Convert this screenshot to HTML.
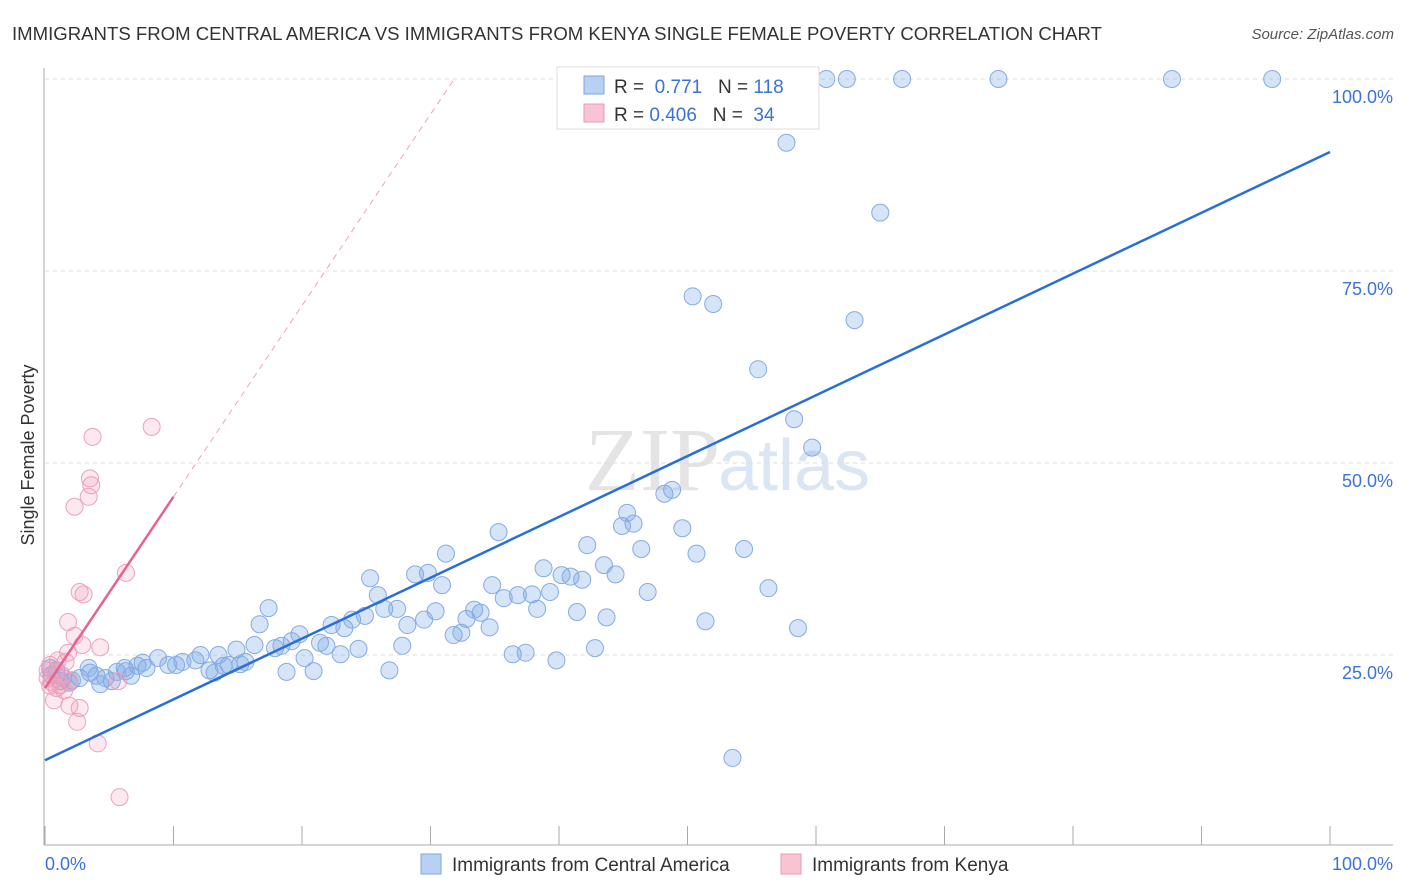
<!DOCTYPE html>
<html><head><meta charset="utf-8"><style>
body{margin:0;background:#fff;font-family:"Liberation Sans",sans-serif}
svg{display:block}
</style></head><body>
<svg id="chart" width="1406" height="892" xmlns="http://www.w3.org/2000/svg">
<text x="12" y="40" font-size="18" fill="#333" textLength="1090" lengthAdjust="spacingAndGlyphs">IMMIGRANTS FROM CENTRAL AMERICA VS IMMIGRANTS FROM KENYA SINGLE FEMALE POVERTY CORRELATION CHART</text>
<text x="1394" y="39" font-size="15" fill="#555" font-style="italic" text-anchor="end">Source: ZipAtlas.com</text>
<text x="720" y="490" font-size="90" fill="#e4e4e4" text-anchor="end" font-family="Liberation Serif">ZIP</text>
<text x="718" y="490" font-size="72" fill="#dbe6f5">atlas</text>
<g id="grid"></g><g id="axes"></g><g id="marks"></g>
<text transform="translate(34,455) rotate(-90)" font-size="18" fill="#333" text-anchor="middle">Single Female Poverty</text>
<text x="45" y="870" font-size="18" fill="#3b72d9">0.0%</text>
<text x="1393" y="870" font-size="18" fill="#3b72d9" text-anchor="end">100.0%</text>
<g>
<rect x="557" y="67" width="262" height="62" fill="#fff" stroke="#ddd"/>
<rect x="584" y="76" width="20" height="18" fill="#b8d1f3" stroke="#7ea6e0"/>
<rect x="584" y="104" width="20" height="18" fill="#f8c4d4" stroke="#eb9ab4"/>
<text x="614" y="93" font-size="19" fill="#333">R = <tspan fill="#3b72d9">&#160;0.771</tspan>&#160;&#160;&#160;N = <tspan fill="#3b72d9">118</tspan></text>
<text x="614" y="121" font-size="19" fill="#333">R = <tspan fill="#3b72d9">0.406</tspan>&#160;&#160;&#160;N = <tspan fill="#3b72d9">&#160;34</tspan></text>
</g>
<g>
<rect x="421" y="854" width="20" height="20" fill="#b8d1f3" stroke="#7ea6e0"/>
<text x="452" y="871" font-size="19" fill="#333">Immigrants from Central America</text>
<rect x="781" y="854" width="20" height="20" fill="#f8c4d4" stroke="#eb9ab4"/>
<text x="812" y="871" font-size="19" fill="#333">Immigrants from Kenya</text>
</g>
</svg>
<script>
const yTicks=[25,50,75,100];
const yTickLabels=["25.0%","50.0%","75.0%","100.0%"];
const xTicks=[0,10,20,30,40,50,60,70,80,90,100];
const blueX=[60.8,62.4,66.7,74.2,87.7,95.5,57.7,65.0,50.4,52.0,63.0,55.5,58.3,59.7,48.2,48.8,45.3,44.9,45.8,49.6,46.4,50.7,54.4,42.2,35.3,31.2,38.8,43.5,40.2,40.9,41.8,44.4,34.8,25.3,28.8,29.8,30.9,25.9,46.9,56.3,35.7,36.8,37.9,39.3,33.4,33.9,32.8,38.3,41.4,43.7,26.4,27.4,30.4,29.5,28.2,34.6,51.4,58.6,17.4,16.7,19.8,22.3,23.3,23.9,24.9,19.2,21.4,21.9,23.0,24.4,27.8,31.8,32.4,36.4,37.4,39.8,42.8,53.5,26.8,18.8,20.9,20.2,14.9,16.3,17.9,18.4,13.5,12.1,11.7,10.7,10.2,9.6,8.8,7.9,7.6,7.2,6.2,6.3,5.6,4.7,4.0,3.5,2.7,2.1,1.4,0.9,0.5,1.2,3.4,15.6,15.2,14.3,13.9,12.8,13.2,6.7,5.2,4.3,1.9,0.4];
const blueY=[100,100,100,100,100,100,91.7,82.6,71.7,70.7,68.6,62.2,55.7,52.0,46.0,46.5,43.5,41.8,42.1,41.5,38.8,38.2,38.8,39.3,41.0,38.2,36.3,36.7,35.4,35.2,34.8,35.5,34.1,35.0,35.5,35.7,34.1,32.8,33.2,33.7,32.4,32.8,32.9,33.2,30.9,30.5,29.7,31.0,30.6,29.9,31.0,31.0,30.7,29.6,28.9,28.6,29.4,28.5,31.1,29.0,27.7,28.9,28.5,29.6,30.1,26.8,26.6,26.2,25.1,25.8,26.2,27.6,27.9,25.1,25.3,24.3,25.9,11.6,23.0,22.8,22.9,24.6,25.7,26.3,25.9,26.2,25.0,25.0,24.3,24.1,23.7,23.7,24.6,23.3,24.0,23.6,23.3,22.9,22.8,22.0,22.3,22.7,22.0,21.7,22.0,23.0,22.4,21.6,23.3,24.1,23.8,23.7,23.6,23.0,22.7,22.3,21.6,21.2,21.4,23.3];
const pinkX=[8.3,3.7,3.5,3.6,3.4,2.3,6.3,2.7,3.0,1.8,2.3,2.9,4.3,1.8,1.6,1.0,0.4,0.2,0.8,1.3,0.2,0.5,1.2,1.9,5.7,0.7,1.9,2.7,2.5,4.1,5.8,1.5,0.9,0.4];
const pinkY=[54.7,53.4,48.0,47.1,45.6,44.3,35.7,33.2,32.9,29.3,27.5,26.3,26.0,25.3,24.1,24.3,23.7,23.0,22.8,22.4,22.0,21.5,21.1,21.6,21.6,19.1,18.4,18.1,16.3,13.5,6.5,20.4,20.7,21.0];
const blueTrend=[11.3,90.5];
const pinkTrend=[20.7,45.6];
const NS='http://www.w3.org/2000/svg';
const xs=v=>45+v*12.85, ys=v=>847-v*7.68;
function mk(tag,attrs,parent){const e=document.createElementNS(NS,tag);for(const k in attrs)e.setAttribute(k,attrs[k]);parent.appendChild(e);return e;}
const grid=document.getElementById('grid'),axes=document.getElementById('axes'),marks=document.getElementById('marks');
yTicks.forEach((t,i)=>{
 const l=mk('line',{x1:45,x2:1393,y1:ys(t),y2:ys(t),stroke:'#ddd','stroke-dasharray':'4,4'},grid);
 
 
 const tx=mk('text',{x:1393,y:ys(t)+24,'font-size':18,fill:'#3b72d9','text-anchor':'end'},axes);
 tx.textContent=yTickLabels[i];
 
 
});
let a=mk('line',{x1:44,x2:44,y1:68,y2:845,stroke:'#aaa'},axes);


a=mk('line',{x1:44,x2:1393,y1:845,y2:845,stroke:'#aaa'},axes);


xTicks.forEach(t=>{
 const l=mk('line',{x1:xs(t),x2:xs(t),y1:826,y2:845,stroke:'#aaa'},axes);
 
 
});
blueX.forEach((x,i)=>{
 const c=mk('circle',{cx:xs(x),cy:ys(blueY[i]),r:8.5,fill:'rgba(120,165,230,0.3)',stroke:'#86abe3','stroke-width':1},marks);
 
 
});
pinkX.forEach((x,i)=>{
 const c=mk('circle',{cx:xs(x),cy:ys(pinkY[i]),r:8.5,fill:'rgba(240,150,180,0.22)',stroke:'#eda2ba','stroke-width':1},marks);
 
 
});
let t=mk('line',{x1:xs(0),y1:ys(blueTrend[0]),x2:xs(100),y2:ys(blueTrend[1]),stroke:'#2a6fd6','stroke-width':2.5},marks);


const slope=(pinkTrend[1]-pinkTrend[0])/10;
const xEnd=(100-pinkTrend[0])/slope;
t=mk('line',{x1:xs(10),y1:ys(pinkTrend[1]),x2:xs(xEnd),y2:ys(100),stroke:'#eba3bb','stroke-width':1,'stroke-dasharray':'6,5'},marks);


t=mk('line',{x1:xs(0),y1:ys(pinkTrend[0]),x2:xs(10),y2:ys(pinkTrend[1]),stroke:'#e8628f','stroke-width':2.5},marks);


</script>
</body></html>
